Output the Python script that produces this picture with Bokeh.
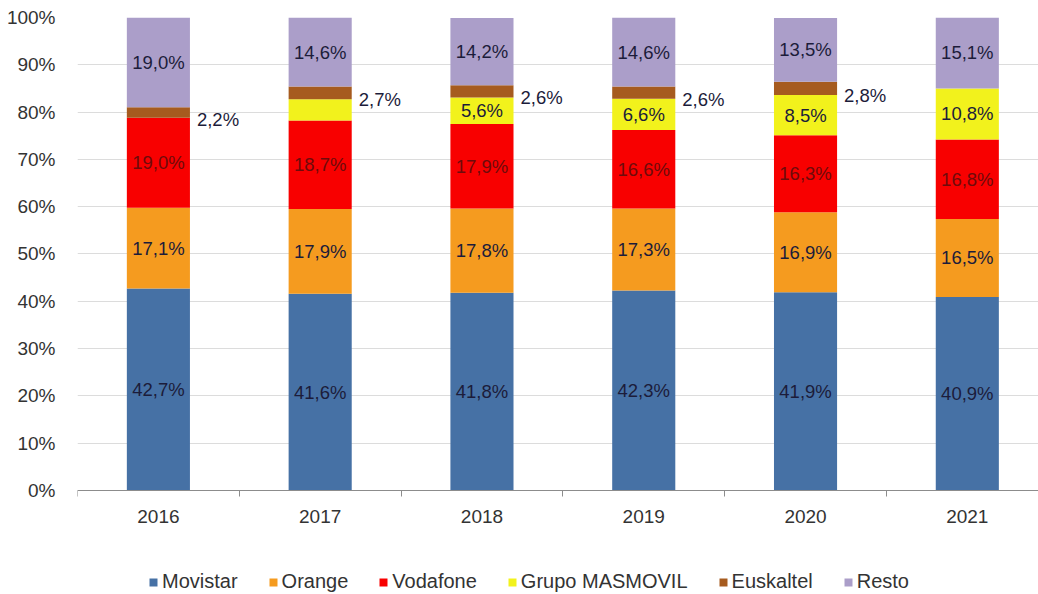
from bokeh.plotting import figure
from bokeh.models import ColumnDataSource, Range1d, FixedTicker, PrintfTickFormatter, Legend
from bokeh.core.properties import value
from bokeh.embed import file_html
from bokeh.resources import INLINE

years = [2016, 2017, 2018, 2019, 2020, 2021]
series = ["Movistar", "Orange", "Vodafone", "Grupo MASMOVIL", "Euskaltel", "Resto"]
movistar = [42.7, 41.6, 41.8, 42.3, 41.9, 40.9]
orange = [17.1, 17.9, 17.8, 17.3, 16.9, 16.5]
vodafone = [19.0, 18.7, 17.9, 16.6, 16.3, 16.8]
masmovil = [0.0, 4.5, 5.6, 6.6, 8.5, 10.8]
euskaltel = [2.2, 2.7, 2.6, 2.6, 2.8, 0.0]
resto = [19.0, 14.6, 14.2, 14.6, 13.5, 15.1]
y_ticks = [0, 10, 20, 30, 40, 50, 60, 70, 80, 90, 100]

colors = ["#4671a5", "#f59b1f", "#f80000", "#f2f21c", "#a65b1f", "#ab9ec9"]
label_colors = ["#1c1c3a", "#1c1c3a", "#6e0b0b", "#1c1c3a", "#1c1c3a", "#1c1c3a"]
FONT = "Liberation Sans"

values = [movistar, orange, vodafone, masmovil, euskaltel, resto]
data = {"year": years}
for name, vals in zip(series, values):
    data[name] = vals
src = ColumnDataSource(data)

# frame runs to the bottom of the page; the x axis is pinned at 0 %
p = figure(width=1038, height=594, output_backend="svg", toolbar_location=None,
           x_range=Range1d(years[0] - 0.5, years[0] - 0.5 + 5.94),
           y_range=Range1d(-22, 100),
           min_border_left=77, min_border_right=0, min_border_top=17, min_border_bottom=0)
p.outline_line_color = None
p.background_fill_color = "white"

renderers = p.vbar_stack(series, x="year", width=0.39, source=src, color=colors,
                         line_color=None)

# labels
lx, ly, lt, lc, ox, oy, ot = [], [], [], [], [], [], []
for j in range(len(years)):
    bottom = 0.0
    for i, vals in enumerate(values):
        v = vals[j]
        txt = f"{v:.1f}".replace(".", ",") + "%"
        if series[i] == "Euskaltel":
            if v > 0:
                ox.append(years[j] + 0.195)
                oy.append(bottom + v / 2 - 1.4)
                ot.append(txt)
        elif v >= 5:
            lx.append(years[j])
            ly.append(bottom + v / 2)
            lt.append(txt)
            lc.append(label_colors[i])
        bottom += v

p.text(x=lx, y=ly, text=lt, text_color=lc, text_align="center", text_baseline="middle",
       text_font=value(FONT), text_font_size="18.5px")
p.text(x=ox, y=oy, text=ot, text_color="#1c1c3a", text_align="left", text_baseline="middle",
       x_offset=7, text_font=value(FONT), text_font_size="18.5px")

# axes
p.yaxis.ticker = FixedTicker(ticks=y_ticks)
p.yaxis.formatter = PrintfTickFormatter(format="%d%%")
p.yaxis.axis_line_color = None
p.yaxis.major_tick_line_color = None
p.yaxis.minor_tick_line_color = None
p.yaxis.major_label_standoff = 16
p.yaxis.major_label_text_font = FONT
p.yaxis.major_label_text_font_size = "19px"
p.yaxis.major_label_text_color = "#333333"

p.xaxis.fixed_location = 0
p.xaxis.ticker = FixedTicker(ticks=years, minor_ticks=[y - 0.5 for y in years] + [years[-1] + 0.5])
p.xaxis.axis_line_color = "#8c8c8c"
p.xaxis.major_tick_line_color = None
p.xaxis.major_tick_out = 0
p.xaxis.major_tick_in = 0
p.xaxis.minor_tick_line_color = "#8c8c8c"
p.xaxis.minor_tick_out = 6
p.xaxis.minor_tick_in = 0
p.xaxis.major_label_standoff = 14
p.xaxis.major_label_text_font = FONT
p.xaxis.major_label_text_font_size = "19px"
p.xaxis.major_label_text_color = "#333333"

p.xgrid.grid_line_color = None
p.ygrid.grid_line_color = "#dcdcdc"
p.ygrid.level = "underlay"

legend = Legend(items=[(s, [r]) for s, r in zip(series, renderers)],
                orientation="horizontal", location=(71, 1),
                glyph_width=10, glyph_height=10, label_standoff=4, spacing=30,
                padding=2, margin=0, border_line_color=None, background_fill_alpha=0,
                label_text_font=FONT, label_text_font_size="20px",
                label_text_color="#333333", label_height=20)
p.add_layout(legend, "center")

open("out.html", "w").write(file_html(p, INLINE))
